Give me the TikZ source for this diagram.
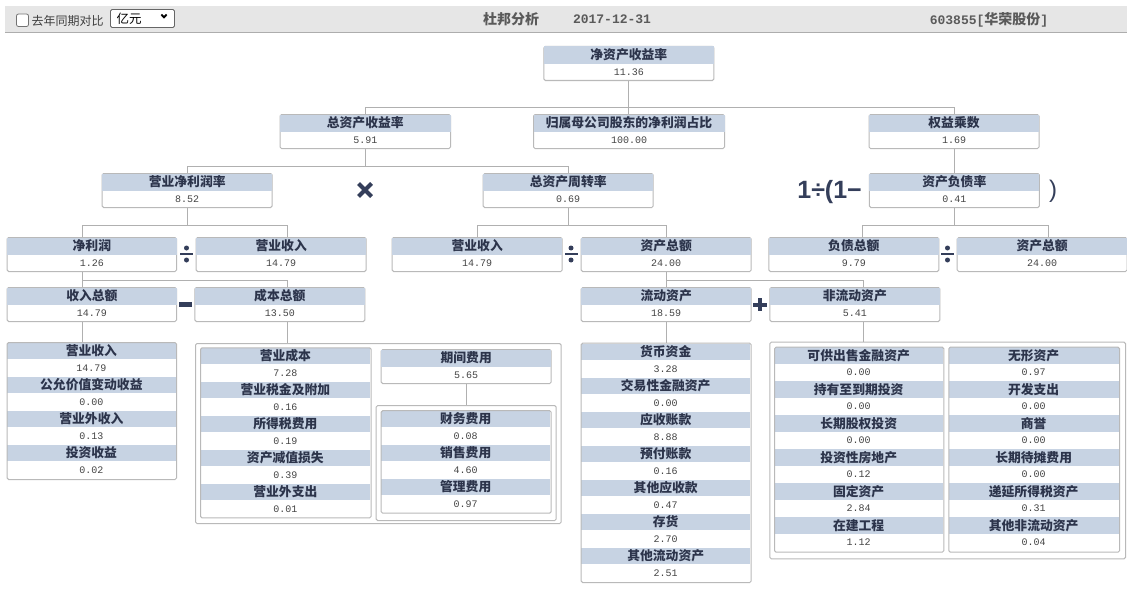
\documentclass[tikz,border=0pt]{standalone}
\usepackage{fontspec}
\newfontfamily\cjk{Noto Sans CJK SC}
\newfontfamily\monof{Liberation Mono}
\newfontfamily\symf{Liberation Sans}
\usetikzlibrary{calc}
\definecolor{hdr}{RGB}{199,211,227}
\definecolor{bord}{RGB}{185,185,185}
\definecolor{lin}{RGB}{176,176,176}
\definecolor{navy}{RGB}{52,62,90}
\definecolor{ttlc}{RGB}{44,52,75}
\definecolor{valc}{RGB}{68,68,68}
\definecolor{barbg}{RGB}{230,230,230}
\definecolor{topc}{RGB}{90,90,90}
\tikzset{
 dbox/.style={draw=bord, line width=1pt, rounded corners=1.5pt, minimum height=34pt, inner sep=0pt, fill=white},
 lbox/.style={draw=bord, line width=1pt, rounded corners=1.5pt, inner sep=0pt},
 ttl/.style={inner sep=0pt, text=ttlc, font=\cjk\bfseries\fontsize{12.8}{13}\selectfont},
 val/.style={inner sep=0pt, text=valc, font=\monof\fontsize{10}{11}\selectfont},
 conn/.style={draw=lin, line width=1pt},
 topt/.style={inner sep=0pt, text=topc, font=\cjk\bfseries\fontsize{14}{15}\selectfont},
}
\newcommand\dnode[6]{%
 \node[dbox, minimum width=#4pt, anchor=north west] (#1) at (#2,#3) {};
 \fill[hdr] ([shift={(0.5pt,-0.5pt)}]#1.north west) rectangle ([shift={(-0.5pt,-18pt)}]#1.north east);
 \node[ttl] (#1-t) at ([yshift=-9pt]#1.north) {#5};
 \node[val] (#1-v) at ([yshift=-26pt]#1.north) {#6};
}
\newcommand\litem[6]{%
 \fill[hdr] (#2+0.5,#4) rectangle (#3-0.5,#4+16.5);
 \node[ttl] (#1-t) at ({(#2+#3)/2},#4+8.5) {#5};
 \node[val] (#1-v) at ({(#2+#3)/2},#4+25.5) {#6};
}
\newcommand\divsym[2]{%
 \fill[navy] (#1-6.5,#2-1.1) rectangle (#1+6.5,#2+1.1);
 \fill[navy] (#1,#2-6) circle (2.5pt);
 \fill[navy] (#1,#2+6) circle (2.5pt);
}
\begin{document}
\begin{tikzpicture}[x=1pt,y=-1pt]
\useasboundingbox (0,0) rectangle (1127,594);
\fill[white] (0,0) rectangle (1127,594);
% top bar
\fill[barbg] (5,6) rectangle (1127,32);
\draw[draw=black!32, line width=1.2pt] (5,32.2) -- (1127,32.2);
\draw[draw=black!55, fill=white, rounded corners=2pt, line width=0.8pt] (16.5,14) rectangle (28.5,26.5);
\node[anchor=west, inner sep=0pt, text=black!75, font=\cjk\fontsize{12}{13}\selectfont] (cmp) at (31.5,20.5) {去年同期对比};
\draw[draw=black!60, fill=white, rounded corners=1.5pt, line width=0.8pt] (110.5,9.5) rectangle (174.5,27.5);
\node[anchor=west, inner sep=0pt, text=black, font=\cjk\fontsize{12.5}{13}\selectfont] (unit) at (116.5,18.8) {亿元};
\draw[line width=1.8pt] (161.3,14.5) -- (164,17.3) -- (166.7,14.5);
\node[topt] (title) at (511,19.5) {杜邦分析};
\node[topt, font=\monof\bfseries\fontsize{13}{14}\selectfont] (date) at (612,19.5) {2017-12-31};
\node[topt] (stock) at (989,19.5) {{\monof\fontsize{13}{14}\selectfont 603855[}华荣股份{\monof\fontsize{13}{14}\selectfont ]}};
% main nodes
\dnode{roe}{543.3}{46}{170}{净资产收益率}{11.36}
\dnode{roa}{279.5}{114}{170.5}{总资产收益率}{5.91}
\dnode{share}{533}{114}{191}{归属母公司股东的净利润占比}{100.00}
\dnode{em}{868.5}{114}{170}{权益乘数}{1.69}
\dnode{npm}{101.7}{173}{170}{营业净利润率}{8.52}
\dnode{tat}{482.7}{173}{170}{总资产周转率}{0.69}
\dnode{dar}{868.8}{173}{170}{资产负债率}{0.41}
\dnode{ni}{6.7}{237}{169.3}{净利润}{1.26}
\dnode{rev1}{195.7}{237}{170}{营业收入}{14.79}
\dnode{rev2}{391.7}{237}{170}{营业收入}{14.79}
\dnode{ta1}{580.7}{237}{170}{资产总额}{24.00}
\dnode{tl}{768.3}{237}{170}{负债总额}{9.79}
\dnode{ta2}{956.7}{237}{169.8}{资产总额}{24.00}
\dnode{ti}{6.7}{287}{169.3}{收入总额}{14.79}
\dnode{tc}{194.3}{287}{170}{成本总额}{13.50}
\dnode{ca}{580.7}{287}{170}{流动资产}{18.59}
\dnode{nca}{769.3}{287}{170}{非流动资产}{5.41}
\dnode{pe}{380.7}{349}{170}{期间费用}{5.65}
% list items
\litem{a1}{6.7}{176}{342.5}{营业收入}{14.79}
\litem{a2}{6.7}{176}{376.5}{公允价值变动收益}{0.00}
\litem{a3}{6.7}{176}{410.5}{营业外收入}{0.13}
\litem{a4}{6.7}{176}{444.5}{投资收益}{0.02}
\litem{b1}{200}{370.7}{347.5}{营业成本}{7.28}
\litem{b2}{200}{370.7}{381.5}{营业税金及附加}{0.16}
\litem{b3}{200}{370.7}{415.5}{所得税费用}{0.19}
\litem{b4}{200}{370.7}{449.5}{资产减值损失}{0.39}
\litem{b5}{200}{370.7}{483.5}{营业外支出}{0.01}
\litem{c1}{380.7}{550.7}{410.5}{财务费用}{0.08}
\litem{c2}{380.7}{550.7}{444.5}{销售费用}{4.60}
\litem{c3}{380.7}{550.7}{478.5}{管理费用}{0.97}
\litem{d1}{580.7}{750.7}{343.5}{货币资金}{3.28}
\litem{d2}{580.7}{750.7}{377.5}{交易性金融资产}{0.00}
\litem{d3}{580.7}{750.7}{411.5}{应收账款}{8.88}
\litem{d4}{580.7}{750.7}{445.5}{预付账款}{0.16}
\litem{d5}{580.7}{750.7}{479.5}{其他应收款}{0.47}
\litem{d6}{580.7}{750.7}{513.5}{存货}{2.70}
\litem{d7}{580.7}{750.7}{547.5}{其他流动资产}{2.51}
\litem{e1}{774}{943.3}{347}{可供出售金融资产}{0.00}
\litem{e2}{774}{943.3}{381}{持有至到期投资}{0.00}
\litem{e3}{774}{943.3}{415}{长期股权投资}{0.00}
\litem{e4}{774}{943.3}{449}{投资性房地产}{0.12}
\litem{e5}{774}{943.3}{483}{固定资产}{2.84}
\litem{e6}{774}{943.3}{517}{在建工程}{1.12}
\litem{f1}{948.3}{1119}{347}{无形资产}{0.97}
\litem{f2}{948.3}{1119}{381}{开发支出}{0.00}
\litem{f3}{948.3}{1119}{415}{商誉}{0.00}
\litem{f4}{948.3}{1119}{449}{长期待摊费用}{0.00}
\litem{f5}{948.3}{1119}{483}{递延所得税资产}{0.31}
\litem{f6}{948.3}{1119}{517}{其他非流动资产}{0.04}
% containers
\node[lbox, minimum width=169.3pt, minimum height=137pt, anchor=north west] (L1) at (6.7,342) {};
\node[lbox, minimum width=365.7pt, minimum height=180pt, anchor=north west] (CO) at (195,343) {};
\node[lbox, minimum width=170.7pt, minimum height=170pt, anchor=north west] (L2) at (200,347.3) {};
\node[lbox, minimum width=180pt, minimum height=115pt, anchor=north west] (PO) at (375.7,405) {};
\node[lbox, minimum width=170pt, minimum height=102.5pt, anchor=north west] (L3) at (380.7,410.2) {};
\node[lbox, minimum width=170pt, minimum height=239.3pt, anchor=north west] (L4) at (580.7,342.7) {};
\node[lbox, minimum width=355.7pt, minimum height=216.6pt, anchor=north west] (NO) at (769.3,341.7) {};
\node[lbox, minimum width=169.3pt, minimum height=205pt, anchor=north west] (L5) at (774,346.7) {};
\node[lbox, minimum width=170.7pt, minimum height=205pt, anchor=north west] (L6) at (948.3,346.7) {};
% connectors
\coordinate (b1) at (0,107.3);
\coordinate (b2) at (0,166);
\coordinate (b3) at (0,225.7);
\coordinate (b3r) at (0,225);
\coordinate (b4) at (0,280);
\draw[conn] (roe.south) -- (roe.south |- share.north);
\draw[conn] (roa.north) |- (b1 -| em.north) -- (em.north);
\draw[conn] (roa.south) -- (roa.south |- b2);
\draw[conn] (npm.north) |- (b2 -| tat.north) -- (tat.north);
\draw[conn] (em.south) -- (em.south |- dar.north);
\coordinate (niT) at ([xshift=-9.6pt]ni.north);
\coordinate (niB) at ([xshift=-9.6pt]ni.south);
\coordinate (rev1T) at ([xshift=6.6pt]rev1.north);
\draw[conn] (npm.south) -- (npm.south |- b3);
\draw[conn] (niT) |- (b3 -| rev1T) -- (rev1T);
\draw[conn] (tat.south) -- (tat.south |- b3);
\draw[conn] (rev2.north) |- (b3 -| ta1.north) -- (ta1.north);
\coordinate (tlT) at ([xshift=8.4pt]tl.north);
\coordinate (ta2T) at ([xshift=6.6pt]ta2.north);
\draw[conn] (dar.south) -- (dar.south |- b3r);
\draw[conn] (tlT) |- (b3r -| ta2T) -- (ta2T);
\coordinate (tiT) at ([xshift=-9.6pt]ti.north);
\coordinate (tiB) at ([xshift=-9.6pt]ti.south);
\coordinate (tcT) at ([xshift=8pt]tc.north);
\coordinate (tcB) at ([xshift=8pt]tc.south);
\draw[conn] (niB) -- (niB |- b4);
\draw[conn] (tiT) |- (b4 -| tcT) -- (tcT);
\coordinate (ncaT) at ([xshift=9pt]nca.north);
\coordinate (ncaB) at ([xshift=9pt]nca.south);
\draw[conn] (ta1.south) -- (ta1.south |- b4);
\draw[conn] (ca.north) |- (b4 -| ncaT) -- (ncaT);
\draw[conn] (tiB) -- (tiB |- L1.north);
\draw[conn] (tcB) -- (tcB |- CO.north);
\draw[conn] (ca.south) -- (ca.south |- L4.north);
\draw[conn] (ncaB) -- (ncaB |- NO.north);
\draw[conn] (pe.south) -- (pe.south |- PO.north);
% operators
\draw[navy, line width=4.2pt] (358.5,183.5) -- (371.5,196.5) (358.5,196.5) -- (371.5,183.5);
\divsym{186.5}{254}
\divsym{571}{254}
\divsym{947.5}{254}
\fill[navy] (179,302) rectangle (192.3,306.7);
\fill[navy] (757.7,298.3) rectangle (762.3,311);
\fill[navy] (753.3,302.5) rectangle (766.7,306.7);
\node[anchor=base east, inner sep=0pt, text=navy, font=\symf\bfseries\fontsize{25}{26}\selectfont] (formula) at (862,198) {1÷(1−};
\node[anchor=base west, inner sep=0pt, text=navy, font=\symf\fontsize{24}{25}\selectfont] (rpar) at (1049,197.5) {)};
\end{tikzpicture}
\end{document}
